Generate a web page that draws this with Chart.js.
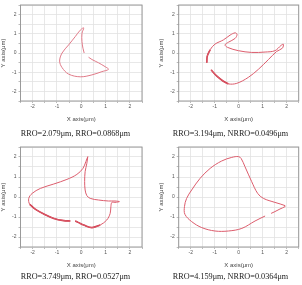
<!DOCTYPE html>
<html>
<head>
<meta charset="utf-8">
<script src="https://cdn.jsdelivr.net/npm/chart.js"></script>
<style>
  html, body { margin: 0; padding: 0; background: #fff; }
  #page { position: relative; width: 302px; height: 285px; overflow: hidden; }
  .box { position: absolute; }
  .cap { position: absolute; width: 151px; text-align: center; font: 8.2px "Liberation Serif", "Times New Roman", serif; color: #1a1a1a; line-height: 10px; white-space: nowrap; will-change: transform; }
</style>
</head>
<body>
<div id="page">
  <div class="box" style="left:0;top:0;width:151px;height:124px"><canvas id="c1"></canvas></div>
  <div class="box" style="left:151px;top:0;width:151px;height:124px"><canvas id="c2"></canvas></div>
  <div class="box" style="left:0;top:142px;width:151px;height:128px"><canvas id="c3"></canvas></div>
  <div class="box" style="left:151px;top:142px;width:151px;height:128px"><canvas id="c4"></canvas></div>
  <div class="cap" style="left:0;top:129px">RRO=2.079μm, RRO=0.0868μm</div>
  <div class="cap" style="left:155px;top:129px">RRO=3.194μm, NRRO=0.0496μm</div>
  <div class="cap" style="left:0;top:272px">RRO=3.749μm, RRO=0.0527μm</div>
  <div class="cap" style="left:155px;top:272px">RRO=4.159μm, NRRO=0.0364μm</div>
</div>
<script>
// ─── DATA (μm) ──────────────────────────────────────────
const axisTicks = [-2, -1, 0, 1, 2];

// panel 1
const p1x = [0.12, 0.07, 0.03, 0.03, 0.10, -0.04, -0.25, -0.52, -0.79, -0.89, -0.79, -0.52, -0.04, 0.44, 0.85, 1.12, 0.98, 0.71, 0.44, 0.30];
const p1y = [0.00, 0.25, 0.59, 1.02, 1.31, 1.19, 0.85, 0.42, 0.00, -0.42, -0.76, -1.10, -1.24, -1.14, -0.97, -0.85, -0.71, -0.51, -0.34, -0.22];

// panel 2
const p2x = [-1.33, -1.31, -1.19, -0.99, -0.64, -0.36, -0.15, -0.07, -0.15, -0.43, -0.57, -0.46, -0.01, 0.54, 1.10, 1.51, 1.76, 1.86, 1.82, 1.58, 1.24, 0.82, 0.40, -0.08, -0.43, -0.64, -0.92, -1.15];
const p2y = [-0.51, -0.17, 0.17, 0.46, 0.68, 0.93, 1.05, 0.97, 0.76, 0.56, 0.42, 0.29, 0.12, 0.03, 0.05, 0.12, 0.39, 0.46, 0.25, 0.08, -0.34, -0.85, -1.27, -1.58, -1.61, -1.47, -1.19, -0.88];

// panel 3 (two pieces, gap at the bottom)
const p3ax = [0.27, 0.23, 0.16, 0.14, 0.16, 0.23, 0.37, 0.71, 1.12, 1.39, 1.57, 1.39, 1.26, 1.22, 1.19, 1.05, 0.78, 0.44, 0.10, -0.11, -0.25];
const p3ay = [2.02, 1.68, 1.27, 0.77, 0.35, 0.07, -0.07, -0.15, -0.20, -0.20, -0.23, -0.27, -0.27, -0.48, -0.82, -1.15, -1.40, -1.53, -1.40, -1.28, -1.20];
const p3bx = [-0.45, -0.72, -1.13, -1.54, -1.88, -2.12, -2.16, -2.02, -1.68, -1.13, -0.59, -0.18, 0.07, 0.19, 0.27];
const p3by = [-1.20, -1.18, -1.07, -0.85, -0.62, -0.37, -0.07, 0.18, 0.43, 0.65, 0.88, 1.13, 1.43, 1.77, 2.02];

// panel 4
const p4x = [1.10, 0.68, 0.13, -0.43, -0.99, -1.54, -1.96, -2.24, -2.26, -2.17, -1.96, -1.61, -1.19, -0.71, -0.29, -0.01, 0.10, 0.26, 0.54, 0.79, 1.03, 1.51, 1.93, 1.93, 1.72, 1.51, 1.35];
const p4y = [-0.95, -1.20, -1.57, -1.70, -1.70, -1.53, -1.23, -0.87, -0.48, -0.07, 0.35, 0.93, 1.43, 1.80, 1.98, 2.02, 1.93, 1.52, 0.77, 0.18, -0.07, -0.27, -0.43, -0.48, -0.60, -0.73, -0.82];

// ─── HELPERS ────────────────────────────────────────────
const pts = (xs, ys) => xs.map((x, i) => ({ x: x, y: ys[i] }));

const frame = {
    id: 'frame',
    afterDraw(chart) {
        const a = chart.chartArea, ctx = chart.ctx;
        ctx.save();
        ctx.strokeStyle = '#9a9a9a';
        ctx.lineWidth = 1;
        ctx.strokeRect(a.left, a.top, a.right - a.left, a.bottom - a.top);
        ctx.restore();
    }
};

function curve(xs, ys, color, width) {
    return {
        data: pts(xs, ys),
        showLine: true,
        pointRadius: 0,
        borderColor: color || '#dc5c6c',
        borderWidth: width || 1,
        tension: 0.35
    };
}

// darker, thicker stretches drawn over the thin trace (start/end index)
const heavy = (xs, ys, a, b) => curve(xs.slice(a, b), ys.slice(a, b), '#cc3444', 1.6);

function makeChart(id, datasets, lay) {
    const tickFont = { family: 'Liberation Sans, Arial, sans-serif', size: 5 };
    const titleFont = { family: 'Liberation Sans, Arial, sans-serif', size: 6 };
    new Chart(document.getElementById(id), {
        type: 'scatter',
        data: { datasets: datasets },
        options: {
            responsive: true,
            maintainAspectRatio: false,
            animation: false,
            events: [],
            layout: { padding: { left: lay.padL, right: lay.padR, top: lay.padT, bottom: 0 } },
            plugins: { legend: { display: false }, tooltip: { enabled: false } },
            scales: {
                x: {
                    type: 'linear', min: -2.5, max: 2.5,
                    afterFit: s => { s.height = lay.xH; },
                    ticks: {
                        stepSize: 0.5, autoSkip: false, maxRotation: 0, padding: 1,
                        color: '#555', font: tickFont,
                        callback: v => axisTicks.includes(v) ? String(v) : ''
                    },
                    grid: { color: '#e2e2e2', lineWidth: 0.8, tickLength: 2, tickColor: '#aaa' },
                    border: { display: false },
                    title: { display: true, text: 'X axis(μm)', color: '#444', font: titleFont, padding: { top: 0, bottom: 1 } }
                },
                y: {
                    type: 'linear', min: -2.5, max: 2.5,
                    afterFit: s => { s.width = lay.yW; },
                    ticks: {
                        stepSize: 0.5, autoSkip: false, padding: 2,
                        color: '#555', font: tickFont,
                        callback: v => axisTicks.includes(v) ? String(v) : ''
                    },
                    grid: { color: '#e2e2e2', lineWidth: 0.8, tickLength: 2, tickColor: '#aaa' },
                    border: { display: false },
                    title: { display: true, text: 'Y axis(μm)', color: '#444', font: titleFont, padding: { top: 0, bottom: 0 } }
                }
            }
        },
        plugins: [frame]
    });
}

// ─── RENDER ─────────────────────────────────────────────
const layTopL = { padL: 0, yW: 20.5, padR: 9, padT: 2.5, xH: 23 };
const layTopR = { padL: 7, yW: 20.7, padR: 3.3, padT: 2.5, xH: 23 };
const layBotL = { padL: 0, yW: 20.5, padR: 9, padT: 5, xH: 23 };
const layBotR = { padL: 7, yW: 20.7, padR: 3.3, padT: 5, xH: 23 };

makeChart('c1', [curve(p1x, p1y, '#e07a88')], layTopL);
makeChart('c2', [curve(p2x, p2y), heavy(p2x, p2y, 0, 3), heavy(p2x, p2y, 24, 28)], layTopR);
makeChart('c3', [curve(p3ax, p3ay), curve(p3bx, p3by), heavy(p3ax, p3ay, 16, 21), heavy(p3bx, p3by, 0, 6)], layBotL);
makeChart('c4', [curve(p4x, p4y)], layBotR);
</script>
</body>
</html>
